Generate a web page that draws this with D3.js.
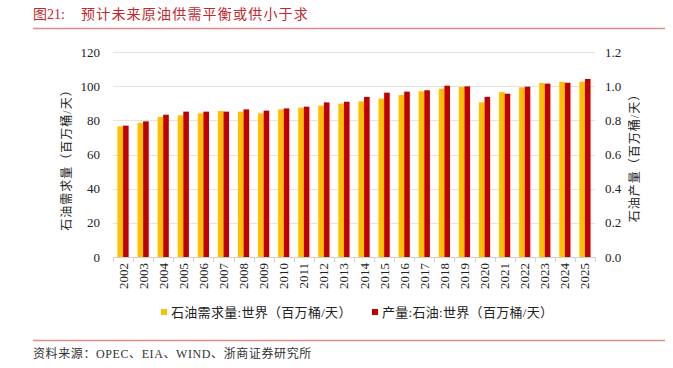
<!DOCTYPE html>
<html>
<head>
<meta charset="utf-8">
<script src="https://cdn.jsdelivr.net/npm/d3@7"></script>
<style>
  body { margin: 0; background: #fff; }
  text { font-family: "Liberation Serif", "Noto Sans CJK SC", serif; }
  .cjk { font-family: "Liberation Serif", "Noto Sans CJK SC", sans-serif; }
</style>
</head>
<body>
<div id="chart"></div>
<script>
// Data (million barrels / day)
const years = ["2002","2003","2004","2005","2006","2007","2008","2009","2010","2011","2012","2013",
  "2014","2015","2016","2017","2018","2019","2020","2021","2022","2023","2024","2025"];
const demand = [76.5, 78.6, 82.0, 82.9, 84.1, 85.5, 85.1, 84.1, 86.4, 87.4, 88.6, 89.8,
  91.1, 92.7, 94.8, 97.0, 98.5, 99.5, 90.5, 96.6, 99.3, 101.9, 102.6, 102.6];
const production = [76.9, 79.4, 83.3, 85.1, 85.1, 85.1, 86.4, 85.7, 87.0, 88.0, 90.5, 90.9,
  93.7, 96.2, 96.8, 97.6, 100.3, 99.9, 93.7, 95.6, 99.7, 101.5, 102.0, 104.2];
const leftTicks = [0, 20, 40, 60, 80, 100, 120];
const rightTicks = [0, 0.2, 0.4, 0.6, 0.8, 1.0, 1.2];
const seriesNames = ["石油需求量:世界（百万桶/天）", "产量:石油:世界（百万桶/天）"];
const colors = ["#FFC000", "#C00000"];

const W = 673, H = 368;
const plot = { left: 113, right: 595, top: 52, bottom: 257 };

const svg = d3.select("#chart").append("svg")
  .attr("width", W).attr("height", H);

// Title and rules
svg.append("text")
  .attr("class", "cjk")
  .attr("x", 33).attr("y", 19)
  .attr("fill", "#C0282D")
  .style("font-size", "14px")
  .text("图21:");
svg.append("text")
  .attr("class", "cjk")
  .attr("x", 81).attr("y", 19)
  .attr("fill", "#C0282D")
  .style("font-size", "14px")
  .style("letter-spacing", "1.2px")
  .text("预计未来原油供需平衡或供小于求");
svg.append("line")
  .attr("x1", 33).attr("x2", 665).attr("y1", 28.5).attr("y2", 28.5)
  .attr("stroke", "#E08A8A").attr("stroke-width", 1.5);
svg.append("line")
  .attr("x1", 33).attr("x2", 665).attr("y1", 340.5).attr("y2", 340.5)
  .attr("stroke", "#E08A8A").attr("stroke-width", 1.5);
svg.append("text")
  .attr("class", "cjk")
  .attr("x", 33).attr("y", 358)
  .attr("fill", "#333")
  .style("font-size", "12px")
  .style("letter-spacing", "0.6px")
  .text("资料来源：OPEC、EIA、WIND、浙商证券研究所");

// Scales
const x = d3.scaleBand().domain(years).range([plot.left, plot.right]).padding(0);
const yL = d3.scaleLinear().domain([0, 120]).range([plot.bottom, plot.top]);
const yR = d3.scaleLinear().domain([0, 1.2]).range([plot.bottom, plot.top]);

// Gridlines
svg.append("g").selectAll("line")
  .data(leftTicks.filter(d => d > 0))
  .enter().append("line")
  .attr("x1", plot.left).attr("x2", plot.right)
  .attr("y1", d => Math.round(yL(d)) + 0.5).attr("y2", d => Math.round(yL(d)) + 0.5)
  .attr("stroke", "#E3E3E3");

// Left axis labels
svg.append("g").selectAll("text")
  .data(leftTicks)
  .enter().append("text")
  .attr("x", 100).attr("y", d => yL(d) + 4.5)
  .attr("text-anchor", "end")
  .style("font-size", "13px")
  .attr("fill", "#222")
  .text(d => d);

// Right axis labels
svg.append("g").selectAll("text")
  .data(rightTicks)
  .enter().append("text")
  .attr("x", 605).attr("y", d => yR(d) + 4.5)
  .attr("text-anchor", "start")
  .style("font-size", "13px")
  .attr("fill", "#222")
  .text(d => d.toFixed(1));

// Bars
const bw = 5.6;
const groups = svg.append("g").selectAll("g")
  .data(years)
  .enter().append("g");
groups.append("rect")
  .attr("x", d => x(d) + x.bandwidth() / 2 - bw)
  .attr("width", bw)
  .attr("y", (d, i) => yL(demand[i]))
  .attr("height", (d, i) => plot.bottom - yL(demand[i]))
  .attr("fill", colors[0]);
groups.append("rect")
  .attr("x", d => x(d) + x.bandwidth() / 2)
  .attr("width", bw)
  .attr("y", (d, i) => yL(production[i]))
  .attr("height", (d, i) => plot.bottom - yL(production[i]))
  .attr("fill", colors[1]);

// X axis
const xAxis = svg.append("g")
  .attr("transform", `translate(0,${plot.bottom})`);
xAxis.append("line")
  .attr("x1", plot.left).attr("x2", plot.right)
  .attr("y1", 0.5).attr("y2", 0.5)
  .attr("stroke", "#D0D0D0");
xAxis.selectAll(".tick")
  .data(years.concat(["end"]))
  .enter().append("line")
  .attr("x1", (d, i) => Math.round(plot.left + i * x.bandwidth()) + 0.5)
  .attr("x2", (d, i) => Math.round(plot.left + i * x.bandwidth()) + 0.5)
  .attr("y1", 0).attr("y2", 5)
  .attr("stroke", "#D0D0D0");
xAxis.selectAll(".lbl")
  .data(years)
  .enter().append("text")
  .attr("transform", d => `translate(${x(d) + x.bandwidth() / 2 + 4.5},6) rotate(-90)`)
  .attr("text-anchor", "end")
  .style("font-size", "13px")
  .attr("fill", "#222")
  .text(d => d);

// Axis titles
svg.append("text")
  .attr("class", "cjk")
  .attr("transform", `translate(71,157) rotate(-90)`)
  .attr("text-anchor", "middle")
  .style("font-size", "12px")
  .style("letter-spacing", "1px")
  .attr("fill", "#222")
  .text("石油需求量（百万桶/天）");
svg.append("text")
  .attr("class", "cjk")
  .attr("transform", `translate(639,155) rotate(-90)`)
  .attr("text-anchor", "middle")
  .style("font-size", "12px")
  .style("letter-spacing", "1px")
  .attr("fill", "#222")
  .text("石油产量（百万桶/天）");

// Legend
const legendX = [161, 372];
const legend = svg.append("g").selectAll("g")
  .data(seriesNames)
  .enter().append("g")
  .attr("transform", (d, i) => `translate(${legendX[i]},317)`);
legend.append("rect")
  .attr("x", 0).attr("y", -8).attr("width", 6).attr("height", 6)
  .attr("fill", (d, i) => colors[i]);
legend.append("text")
  .attr("class", "cjk")
  .attr("x", 10).attr("y", 0)
  .style("font-size", "13px")
  .style("letter-spacing", "0.3px")
  .attr("fill", "#222")
  .text(d => d);
</script>
</body>
</html>
